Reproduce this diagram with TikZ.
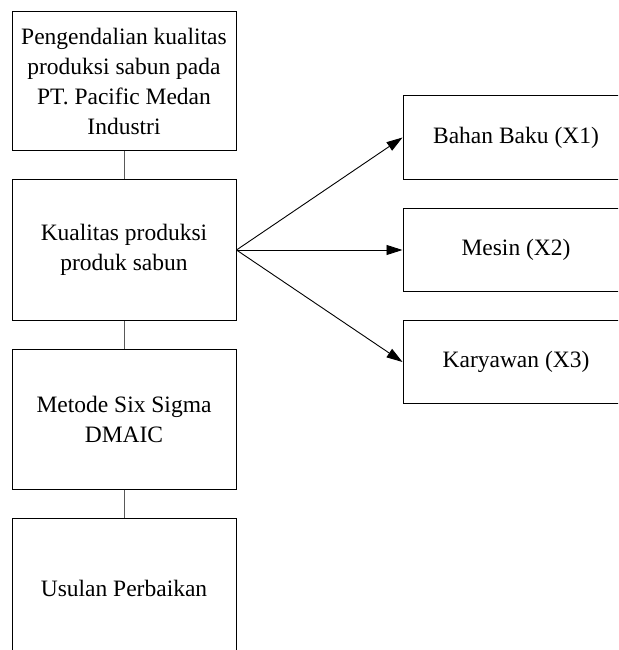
\documentclass[tikz,border=0pt]{standalone}
\usepackage{fontspec}
\setmainfont{Liberation Serif}
\usetikzlibrary{arrows.meta}
\begin{document}
\begin{tikzpicture}[x=1pt,y=-1pt,
  box/.style={draw=black,line width=1pt,align=center,inner sep=0pt,
    font=\fontsize{23.5}{30}\selectfont},
  leftbox/.style={box,minimum width=224pt,minimum height=140pt},
  rightbox/.style={box,minimum width=226pt,minimum height=83pt},
  link/.style={draw=black!65,line width=1pt},
  arr/.style={draw=black,line width=0.9pt,-{Triangle[length=16pt,width=10pt]}}]
\useasboundingbox (0,0) rectangle (618,650);
\clip (0,0) rectangle (618,650);
\node[leftbox,minimum height=138pt] (b1) at (124,81)
  {Pengendalian kualitas\\produksi sabun pada\\PT. Pacific Medan\\Industri};
\node[leftbox,minimum height=141pt] (b2) at (124,250)
  {Kualitas produksi\\produk sabun};
\node[leftbox] (b3) at (124,419) {Metode Six Sigma\\DMAIC};
\node[leftbox] (b4) at (124,588) {Usulan Perbaikan};
\node[rightbox] (r1) at (516,137.5) {Bahan Baku (X1)};
\node[rightbox] (r2) at (516,250) {Mesin (X2)};
\node[rightbox] (r3) at (516,362) {Karyawan (X3)};
\draw[link] (b1.south) -- (b2.north);
\draw[link] (b2.south) -- (b3.north);
\draw[link] (b3.south) -- (b4.north);
\draw[arr] (b2.east) -- (r1.west);
\draw[arr] (b2.east) -- (r2.west);
\draw[arr] (b2.east) -- (r3.west);
\end{tikzpicture}
\end{document}
